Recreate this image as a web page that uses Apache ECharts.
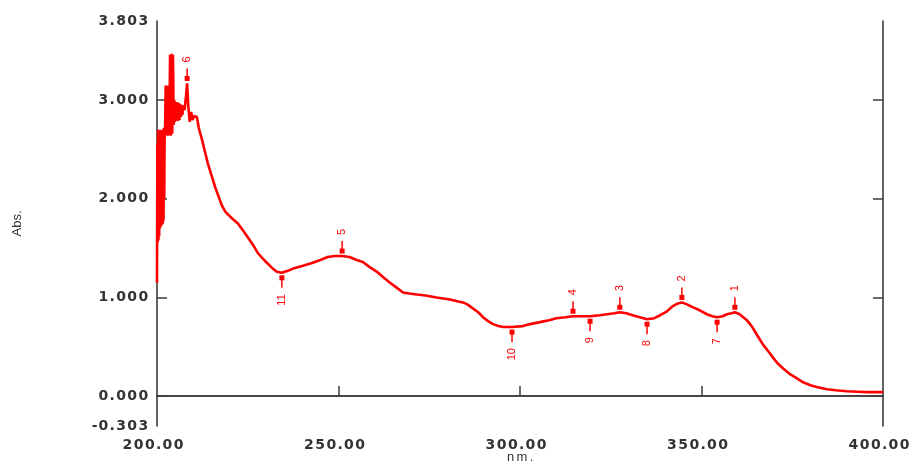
<!DOCTYPE html>
<html>
<head>
<meta charset="utf-8">
<script src="https://cdn.jsdelivr.net/npm/echarts@6/dist/echarts.min.js"></script>
<style>
html,body{margin:0;padding:0;background:#fff;}
#chart{width:914px;height:464px;}
</style>
</head>
<body>
<div id="chart"></div>
<script>
// Wavelength (nm)
const wavelengths = [
  200.0,200.1,200.2,200.3,200.4,200.5,200.6,200.7,200.8,200.9,201.0,201.1,201.2,201.3,201.4,201.5,201.6,201.7,
  201.8,201.9,202.0,202.1,202.2,202.4,202.6,202.8,203.0,203.2,203.4,203.6,203.8,204.0,204.2,204.4,204.6,
  204.8,205.0,205.2,205.4,205.6,205.8,206.0,206.2,206.4,206.6,206.8,207.0,207.2,207.6,208.0,208.3,208.6,209.0,
  209.4,209.8,210.2,211.0,211.5,212.4,
  213.2,214,215,216,217,217.9,218.8,219.6,221,222.3,223.5,225,226.5,227.8,229.5,231.7,233,234.4,236,238,240,
  242.7,245,247,249,251,253,255,256.7,258.5,260.6,262.5,264.2,266,267.8,269.5,271.6,274,277,280.7,283,284.3,
  285.5,287,288.5,289.8,291.2,292.6,294,295.5,297.8,300.8,302.8,305.5,308,310,312.5,314.6,317,319.3,322,324,
  326,327.5,329.3,331,333,335,337,338.6,340.5,342,343.5,344.6,346,347.7,349.5,351.5,353,354.3,355.8,357,358.2,
  359.2,360.5,362.5,364,365.3,367,368.5,369.7,371,372.5,374.5,376.3,378,380,382,384.6,387,390,393,395.6,400
];
// Absorbance
const absorbance = [
  1.15,2.55,1.56,2.70,1.58,2.70,1.62,2.70,1.70,2.70,1.72,2.70,1.73,2.70,1.74,2.70,1.75,2.70,
  1.78,2.72,2.00,2.72,2.63,3.15,2.65,3.15,2.64,3.15,2.65,3.46,2.64,3.47,2.66,3.46,2.75,
  3.00,2.78,2.98,2.80,2.98,2.79,2.97,2.80,2.96,2.83,2.95,2.85,2.95,2.90,3.05,3.17,2.95,2.78,
  2.88,2.80,2.84,2.83,2.72,2.60,
  2.48,2.36,2.24,2.12,2.02,1.93,1.87,1.84,1.79,1.75,1.69,1.61,1.53,1.45,1.38,1.30,1.26,1.25,1.27,1.30,1.32,
  1.35,1.38,1.41,1.42,1.42,1.41,1.38,1.36,1.31,1.26,1.20,1.15,1.10,1.05,1.04,1.03,1.02,1.00,0.98,0.96,0.95,
  0.93,0.89,0.85,0.80,0.76,0.73,0.71,0.70,0.70,0.71,0.73,0.75,0.77,0.79,0.80,0.81,0.81,0.81,0.82,0.83,
  0.84,0.85,0.84,0.82,0.80,0.78,0.79,0.82,0.86,0.91,0.94,0.95,0.93,0.90,0.87,0.83,0.81,0.80,0.81,0.83,0.84,
  0.85,0.83,0.77,0.70,0.62,0.52,0.45,0.39,0.33,0.28,0.22,0.18,0.14,0.11,0.09,0.07,0.06,0.05,0.045,0.04,0.04
];
// Peak / valley picks
const pickLabels = ['1','2','3','4','5','6','7','8','9','10','11'];
const pickWl     = [359.2,344.6,327.5,314.6,251.0,208.3,354.3,335.0,319.3,297.8,234.4];
const pickAbs    = [0.85,0.95,0.85,0.81,1.42,3.17,0.80,0.78,0.81,0.70,1.25];
const pickDir    = [1,1,1,1,1,1,-1,-1,-1,-1,-1]; // 1 = peak (label above), -1 = valley (label below)

// Axis ticks
const xTickValues = [200,250,300,350,400];
const xInnerTicks = [250,300,350];
const yLabelValues = [-0.303,0,1,2,3,3.803];
const yTickValues = [0,1,2,3];

const RED = '#ff0000';
const AXIS = '#3c3c3c';
const TXT = '#333333';

function spaced(str){
  return str.split('').map(c => c === '.' ? '{p|.}' : (c === '-' ? '{m|-}' : '{d|' + c + '}')).join('');
}
const base = {fontFamily:'DejaVu Sans',fontWeight:'bold',fontSize:14,lineHeight:16,color:TXT,align:'center'};
const tickRich = {
  d:Object.assign({width:11.2}, base),
  p:Object.assign({width:6.5}, base),
  m:Object.assign({width:6}, base)
};
const nameBase = {fontFamily:'Liberation Sans',fontSize:13,lineHeight:14,color:TXT,align:'center'};

const chart = echarts.init(document.getElementById('chart'), null, {renderer:'canvas'});
const lineData = wavelengths.map((w,i) => [w, absorbance[i]]);
const pickData = pickWl.map((w,i) => [w, pickAbs[i], pickDir[i]]);

chart.setOption({
  animation:false,
  grid:{left:157,right:31,top:21,bottom:38,containLabel:false,outerBoundsMode:'none'},
  xAxis:[{
    type:'value',min:200,max:400,interval:50,position:'bottom',
    name:'{n|n}{w|m}{q|.}',nameLocation:'middle',nameGap:24,nameMoveOverlap:false,
    nameTextStyle:{fontFamily:'Liberation Sans',fontSize:13,lineHeight:14,color:TXT,
      rich:{n:Object.assign({width:10},nameBase),w:Object.assign({width:13},nameBase),q:Object.assign({width:6},nameBase)}},
    axisLine:{show:true,lineStyle:{color:AXIS,width:1.6}},
    axisTick:{show:true,inside:true,length:10,lineStyle:{color:AXIS,width:1.5},customValues:xInnerTicks},
    axisLabel:{show:true,margin:11,padding:[0,8,0,0],fontFamily:'DejaVu Sans',fontWeight:'bold',fontSize:14,lineHeight:16,
      customValues:xTickValues,
      formatter:v => spaced(Number(v).toFixed(2)),rich:tickRich},
    splitLine:{show:false}
  },{
    type:'value',min:200,max:400,interval:50,position:'top',
    axisLine:{show:true,lineStyle:{color:AXIS,width:1.6}},
    axisTick:{show:false},axisLabel:{show:false},splitLine:{show:false}
  }],
  yAxis:[{
    type:'value',min:-0.303,max:3.803,position:'left',
    name:'Abs.',nameLocation:'middle',nameRotate:90,nameGap:133,nameMoveOverlap:false,
    nameTextStyle:{fontFamily:'Liberation Sans',fontSize:13,color:TXT},
    axisLine:{show:true,lineStyle:{color:AXIS,width:1.6}},
    axisTick:{show:true,inside:true,length:10,lineStyle:{color:AXIS,width:1.5},customValues:yTickValues},
    axisLabel:{show:true,margin:8,fontFamily:'DejaVu Sans',fontWeight:'bold',fontSize:14,lineHeight:16,
      customValues:yLabelValues,
      formatter:v => spaced(Number(v).toFixed(3)),rich:tickRich},
    splitLine:{show:false}
  },{
    type:'value',min:-0.303,max:3.803,position:'right',
    axisLine:{show:true,lineStyle:{color:AXIS,width:1.6}},
    axisTick:{show:true,inside:true,length:10,lineStyle:{color:AXIS,width:1.5},customValues:yTickValues},
    axisLabel:{show:false},splitLine:{show:false}
  }],
  series:[{
    type:'line',xAxisIndex:0,yAxisIndex:0,data:lineData,
    showSymbol:false,symbol:'none',smooth:false,
    lineStyle:{color:RED,width:2.6},z:3
  },{
    type:'custom',xAxisIndex:0,yAxisIndex:0,coordinateSystem:'cartesian2d',
    data:pickData,z:4,clip:false,
    renderItem:function(params, api){
      const p = api.coord([api.value(0), api.value(1)]);
      const s = api.value(2) > 0 ? -1 : 1;
      const lbl = pickLabels[params.dataIndex];
      const tw = lbl.length * 6.1;
      return {type:'group',children:[
        {type:'line',shape:{x1:p[0],y1:p[1]+s*3,x2:p[0],y2:p[1]+s*15},style:{stroke:RED,lineWidth:1.5}},
        {type:'rect',shape:{x:p[0]-2.5,y:p[1]+s*5-2.5,width:5,height:5},style:{fill:RED}},
        {type:'text',x:p[0],y:p[1]+s*(21+tw/2),rotation:Math.PI/2,
          style:{text:lbl,fill:RED,font:'11px "Liberation Sans"',align:'center',verticalAlign:'middle'}}
      ]};
    }
  }]
});
</script>
</body>
</html>
